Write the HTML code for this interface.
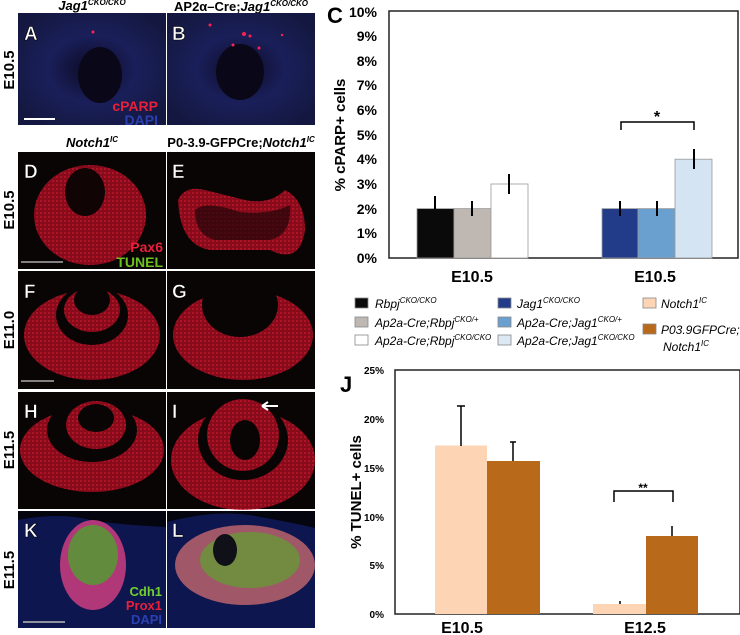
<!DOCTYPE html><html><head><meta charset="utf-8"><style>body{margin:0;background:#fff}svg{display:block;font-family:"Liberation Sans",Arial,sans-serif}</style></head><body>
<svg width="740" height="635" viewBox="0 0 740 635" xmlns="http://www.w3.org/2000/svg">
<defs>
<radialGradient id="blu" cx="50%" cy="50%" r="60%"><stop offset="0" stop-color="#0c0a22"/><stop offset="0.5" stop-color="#1a1f5a"/><stop offset="1" stop-color="#141840"/></radialGradient>
<pattern id="rt" width="4" height="4" patternUnits="userSpaceOnUse"><rect width="4" height="4" fill="#a80c20"/><rect width="2" height="2" fill="#d8162e"/></pattern>
</defs>
<g font-weight="bold" font-size="13" text-anchor="middle" font-style="italic">
<text x="92" y="10">Jag1<tspan font-size="8" dy="-5">CKO/CKO</tspan></text>
<text x="241" y="11" font-style="normal">AP2α–Cre;<tspan font-style="italic">Jag1</tspan><tspan font-size="8" dy="-5" font-style="italic">CKO/CKO</tspan></text>
<text x="92" y="147">Notch1<tspan font-size="8" dy="-5">IC</tspan></text>
<text x="241" y="147" font-style="normal">P0-3.9-GFPCre;<tspan font-style="italic">Notch1</tspan><tspan font-size="8" dy="-5" font-style="italic">IC</tspan></text>
</g>
<g font-weight="bold" font-size="15" text-anchor="middle">
<text transform="translate(14,70) rotate(-90)">E10.5</text>
<text transform="translate(14,210) rotate(-90)">E10.5</text>
<text transform="translate(14,330) rotate(-90)">E11.0</text>
<text transform="translate(14,450) rotate(-90)">E11.5</text>
<text transform="translate(14,570) rotate(-90)">E11.5</text>
</g>
<rect x="18" y="13" width="148" height="112" fill="url(#blu)"/>
<rect x="167" y="13" width="148" height="112" fill="url(#blu)"/>
<ellipse cx="100" cy="75" rx="22" ry="28" fill="#0a0818"/>
<ellipse cx="240" cy="72" rx="24" ry="28" fill="#0a0818"/>
<g fill="#ff2050"><circle cx="93" cy="32" r="1.5"/><circle cx="244" cy="34" r="2"/><circle cx="250" cy="36" r="1.5"/><circle cx="259" cy="48" r="1.5"/><circle cx="233" cy="45" r="1.5"/><circle cx="210" cy="25" r="1.5"/><circle cx="282" cy="35" r="1.2"/></g>
<line x1="24" y1="119" x2="55" y2="119" stroke="#fff" stroke-width="2"/>
<text x="158" y="111" fill="#e8203a" font-size="14" font-weight="bold" text-anchor="end">cPARP</text>
<text x="158" y="125" fill="#2a40b0" font-size="14" font-weight="bold" text-anchor="end">DAPI</text>
<rect x="18" y="152" width="148" height="117" fill="#0a0505"/>
<rect x="167" y="152" width="148" height="117" fill="#0a0505"/>
<ellipse cx="90" cy="215" rx="56" ry="50" fill="url(#rt)" opacity="0.8"/>
<ellipse cx="85" cy="192" rx="20" ry="24" fill="#100404"/>
<path d="M178 200 Q185 185 205 190 L245 200 Q270 205 285 190 Q305 200 305 230 Q300 265 270 250 L210 250 Q180 245 178 200Z" fill="url(#rt)" opacity="0.8"/>
<path d="M195 210 Q205 200 240 212 Q270 215 290 205 Q292 235 270 240 L215 240 Q195 235 195 210Z" fill="#200608" opacity="0.7"/>
<line x1="21" y1="262" x2="63" y2="262" stroke="#aaa" stroke-width="1.5"/>
<text x="163" y="252" fill="#e8203a" font-size="14" font-weight="bold" text-anchor="end">Pax6</text>
<text x="163" y="267" fill="#6cc020" font-size="14" font-weight="bold" text-anchor="end">TUNEL</text>
<rect x="18" y="271" width="148" height="118" fill="#0a0505"/>
<rect x="167" y="271" width="148" height="118" fill="#0a0505"/>
<ellipse cx="92" cy="335" rx="68" ry="45" fill="url(#rt)" opacity="0.8"/>
<ellipse cx="92" cy="315" rx="36" ry="30" fill="#0a0505"/>
<ellipse cx="92" cy="310" rx="28" ry="22" fill="url(#rt)" opacity="0.8"/>
<ellipse cx="92" cy="300" rx="18" ry="15" fill="#0a0505"/>
<ellipse cx="243" cy="335" rx="70" ry="45" fill="url(#rt)" opacity="0.8"/>
<ellipse cx="240" cy="305" rx="38" ry="32" fill="#0a0505"/>
<line x1="21" y1="381" x2="54" y2="381" stroke="#aaa" stroke-width="1.5"/>
<rect x="18" y="392" width="148" height="117" fill="#0a0505"/>
<rect x="167" y="392" width="148" height="117" fill="#0a0505"/>
<ellipse cx="92" cy="450" rx="72" ry="42" fill="url(#rt)" opacity="0.8"/>
<ellipse cx="92" cy="430" rx="45" ry="32" fill="#0a0505"/>
<ellipse cx="96" cy="425" rx="30" ry="24" fill="url(#rt)" opacity="0.8"/>
<ellipse cx="96" cy="418" rx="18" ry="14" fill="#0a0505"/>
<ellipse cx="243" cy="460" rx="72" ry="50" fill="url(#rt)" opacity="0.8"/>
<ellipse cx="243" cy="440" rx="45" ry="40" fill="#0a0505"/>
<ellipse cx="243" cy="435" rx="36" ry="36" fill="url(#rt)" opacity="0.8"/>
<ellipse cx="245" cy="440" rx="15" ry="20" fill="#0a0505"/>
<path d="M262 406 H278 M262 406 L268 402 M262 406 L268 410" stroke="#fff" stroke-width="2" fill="none"/>
<rect x="18" y="511" width="148" height="117" fill="#0e1650"/>
<rect x="167" y="511" width="148" height="117" fill="#0e1650"/>
<path d="M18 520 Q60 512 90 520 Q120 525 166 527 V511 H18Z" fill="#050510"/>
<path d="M167 522 Q220 508 260 517 Q290 522 315 528 V511 H167Z" fill="#050510"/>
<ellipse cx="93" cy="565" rx="33" ry="45" fill="#b03878"/>
<ellipse cx="93" cy="555" rx="25" ry="30" fill="#50a030" opacity="0.8"/>
<ellipse cx="245" cy="565" rx="70" ry="40" fill="#a05868"/>
<ellipse cx="250" cy="560" rx="50" ry="28" fill="#60a030" opacity="0.7"/>
<ellipse cx="225" cy="550" rx="12" ry="16" fill="#101018"/>
<line x1="23" y1="622" x2="65" y2="622" stroke="#bbb" stroke-width="1.5"/>
<text x="162" y="596" fill="#70d030" font-size="13" font-weight="bold" text-anchor="end">Cdh1</text>
<text x="162" y="610" fill="#e8203a" font-size="13" font-weight="bold" text-anchor="end">Prox1</text>
<text x="162" y="624" fill="#2a40b0" font-size="13" font-weight="bold" text-anchor="end">DAPI</text>
<g fill="#fff" font-weight="bold" font-size="19" stroke="#000" stroke-width="0.6">
<text x="24" y="40">A</text><text x="172" y="40">B</text>
<text x="24" y="178">D</text><text x="172" y="178">E</text>
<text x="24" y="298">F</text><text x="172" y="298">G</text>
<text x="24" y="418">H</text><text x="172" y="418">I</text>
<text x="24" y="537">K</text><text x="172" y="537">L</text>
</g>
<text x="327" y="23" font-size="22" font-weight="bold">C</text>
<rect x="389" y="11" width="349" height="247" fill="none" stroke="#222" stroke-width="1.5"/>
<g font-size="14" font-weight="bold" text-anchor="end">
<text x="377" y="263">0%</text><text x="377" y="238">1%</text><text x="377" y="214">2%</text><text x="377" y="189">3%</text><text x="377" y="164">4%</text><text x="377" y="140">5%</text><text x="377" y="115">6%</text><text x="377" y="90">7%</text><text x="377" y="66">8%</text><text x="377" y="41">9%</text><text x="377" y="17">10%</text>
</g>
<text transform="translate(345,135) rotate(-90)" font-size="15" font-weight="bold" text-anchor="middle">% cPARP+ cells</text>
<g stroke="#999" stroke-width="0.8">
<rect x="417" y="208.6" width="37" height="49.4" fill="#0a0a0a"/>
<rect x="454" y="208.6" width="37" height="49.4" fill="#bfb8b2"/>
<rect x="491" y="184" width="37" height="74" fill="#fff"/>
<rect x="602" y="208.6" width="36" height="49.4" fill="#223c8a"/>
<rect x="638" y="208.6" width="37" height="49.4" fill="#6aa0cf"/>
<rect x="675" y="159.2" width="37" height="98.8" fill="#d4e4f3"/>
</g>
<g stroke="#000" stroke-width="2">
<line x1="435" y1="196" x2="435" y2="209"/><line x1="472" y1="201" x2="472" y2="216"/><line x1="509" y1="174" x2="509" y2="194"/>
<line x1="620" y1="201" x2="620" y2="216"/><line x1="657" y1="201" x2="657" y2="216"/><line x1="694" y1="149" x2="694" y2="169"/>
</g>
<path d="M621 130 V122 H694 V130" fill="none" stroke="#000" stroke-width="1.5"/>
<text x="657" y="122" font-size="16" font-weight="bold" text-anchor="middle">*</text>
<g font-size="16" font-weight="bold" text-anchor="middle"><text x="472" y="282">E10.5</text><text x="655" y="282">E10.5</text></g>
<g stroke="#888" stroke-width="0.8">
<rect x="355" y="298" width="13" height="10" fill="#0a0a0a"/>
<rect x="355" y="317" width="13" height="10" fill="#bfb8b2"/>
<rect x="355" y="335" width="13" height="10" fill="#fff"/>
<rect x="498" y="298" width="13" height="10" fill="#223c8a"/>
<rect x="498" y="317" width="13" height="10" fill="#6aa0cf"/>
<rect x="498" y="335" width="13" height="10" fill="#dce8f4"/>
<rect x="643" y="298" width="13" height="10" fill="#fdd5b5"/>
<rect x="643" y="324" width="13" height="10" fill="#b86a1a"/>
</g>
<g font-size="12" font-style="italic">
<text x="375" y="308">Rbpj<tspan font-size="8" dy="-5">CKO/CKO</tspan></text>
<text x="375" y="327">Ap2a-Cre;Rbpj<tspan font-size="8" dy="-5">CKO/+</tspan></text>
<text x="375" y="345">Ap2a-Cre;Rbpj<tspan font-size="8" dy="-5">CKO/CKO</tspan></text>
<text x="517" y="308">Jag1<tspan font-size="8" dy="-5">CKO/CKO</tspan></text>
<text x="517" y="327">Ap2a-Cre;Jag1<tspan font-size="8" dy="-5">CKO/+</tspan></text>
<text x="517" y="345">Ap2a-Cre;Jag1<tspan font-size="8" dy="-5">CKO/CKO</tspan></text>
<text x="661" y="308">Notch1<tspan font-size="8" dy="-5">IC</tspan></text>
<text x="661" y="334">P03.9GFPCre;</text>
<text x="663" y="351">Notch1<tspan font-size="8" dy="-5">IC</tspan></text>
</g>
<text x="340" y="392" font-size="22" font-weight="bold">J</text>
<rect x="395" y="370" width="345" height="244" fill="none" stroke="#222" stroke-width="1.5"/>
<g font-size="10" font-weight="bold" text-anchor="end">
<text x="384" y="618">0%</text><text x="384" y="569">5%</text><text x="384" y="521">10%</text><text x="384" y="472">15%</text><text x="384" y="423">20%</text><text x="384" y="374">25%</text>
</g>
<text transform="translate(361,492) rotate(-90)" font-size="15" font-weight="bold" text-anchor="middle">% TUNEL+ cells</text>
<rect x="435" y="445.5" width="52" height="168.5" fill="#fdd5b5"/>
<rect x="487" y="461" width="53" height="153" fill="#b86a1a"/>
<rect x="593" y="604" width="53" height="10" fill="#fdd5b5"/>
<rect x="646" y="536" width="52" height="78" fill="#b86a1a"/>
<g stroke="#000" stroke-width="1.5">
<line x1="461" y1="406" x2="461" y2="446"/><line x1="457" y1="406" x2="465" y2="406"/>
<line x1="513" y1="442" x2="513" y2="461"/><line x1="510" y1="442" x2="516" y2="442"/>
<line x1="620" y1="601" x2="620" y2="604"/>
<line x1="672" y1="526" x2="672" y2="536"/>
</g>
<path d="M614 502 V491 H673 V502" fill="none" stroke="#000" stroke-width="1.5"/>
<text x="643" y="492" font-size="12" font-weight="bold" text-anchor="middle">**</text>
<g font-size="16" font-weight="bold" text-anchor="middle"><text x="462" y="633">E10.5</text><text x="645" y="633">E12.5</text></g>
</svg>
</body></html>
